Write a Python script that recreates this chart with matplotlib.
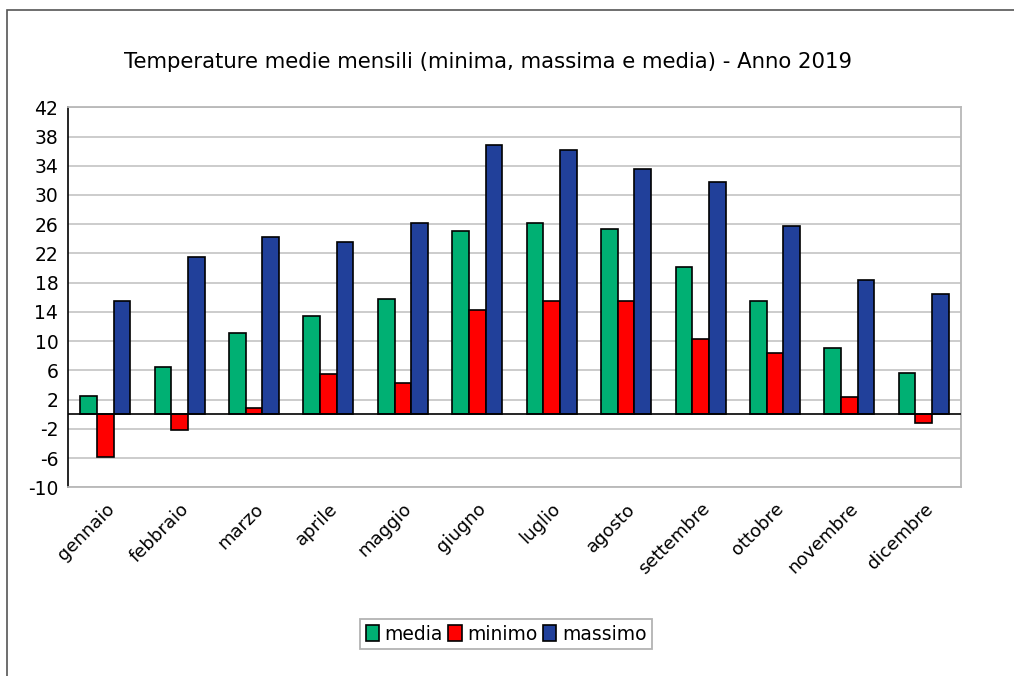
import numpy as np
import matplotlib.pyplot as plt
from matplotlib.patches import Rectangle

mesi = ["gennaio", "febbraio", "marzo", "aprile", "maggio", "giugno",
        "luglio", "agosto", "settembre", "ottobre", "novembre", "dicembre"]
media = [2.5, 6.5, 11.1, 13.5, 15.7, 25.1, 26.1, 25.3, 20.2, 15.5, 9.1, 5.7]
minimo = [-5.9, -2.1, 0.9, 5.5, 4.3, 14.3, 15.5, 15.5, 10.3, 8.4, 2.3, -1.2]
massimo = [15.5, 21.5, 24.2, 23.6, 26.2, 36.9, 36.2, 33.6, 31.8, 25.7, 18.3, 16.4]
yticks = list(range(-10, 43, 4))

W, H = 1014, 676
fig = plt.figure(figsize=(W / 100, H / 100), dpi=100)
plt.rcParams['font.family'] = ['DejaVu Sans']

# outer frame
fig.patches.append(Rectangle((7 / W, -0.1), 1.2, 1 - 10 / H + 0.1,
                             transform=fig.transFigure, fill=False,
                             edgecolor="#555555", linewidth=1.2))

ax = fig.add_axes([68 / W, 1 - 487.3 / H, (961 - 68) / W, (487.3 - 107.3) / H])

x = np.arange(len(mesi))
w = 0.224
ax.bar(x - w, media, w, color="#00b073", edgecolor="black", linewidth=1.2, label="media", zorder=3)
ax.bar(x, minimo, w, color="#ff0000", edgecolor="black", linewidth=1.2, label="minimo", zorder=3)
ax.bar(x + w, massimo, w, color="#21409a", edgecolor="black", linewidth=1.2, label="massimo", zorder=3)

ax.set_xlim(-0.5, len(mesi) - 0.5)
ax.set_ylim(-10, 42)
ax.set_yticks(yticks)
ax.set_yticklabels([str(t) for t in yticks], fontsize=13.5)
ax.yaxis.grid(True, color="#c8c8c8", linewidth=1.3, zorder=0)
ax.axhline(0, color="black", linewidth=1.2, zorder=4)
ax.tick_params(axis="y", length=0, pad=7)
ax.tick_params(axis="x", length=0, pad=9)
ax.set_xticks(x)
ax.set_xticklabels(mesi, rotation=45, ha="right", rotation_mode="anchor", fontsize=13)

for s in ["top", "right", "bottom"]:
    ax.spines[s].set_color("#b8b8b8")
    ax.spines[s].set_linewidth(1.3)
ax.spines["left"].set_color("black")
ax.spines["left"].set_linewidth(1.2)

fig.text(488 / W, 1 - 62 / H, "Temperature medie mensili (minima, massima e media) - Anno 2019",
         ha="center", va="center", fontsize=15.3)

leg = fig.legend(loc="center", bbox_to_anchor=(506 / W, 1 - 634 / H), ncol=3,
                 fontsize=13.5, frameon=True, fancybox=False, handlelength=0.7,
                 handleheight=1.0, handletextpad=0.3, columnspacing=0.3,
                 borderpad=0.3, borderaxespad=0)
leg.get_frame().set_edgecolor("#a0a0a0")
leg.get_frame().set_linewidth(1.3)

fig.savefig("out.png", dpi=100)
